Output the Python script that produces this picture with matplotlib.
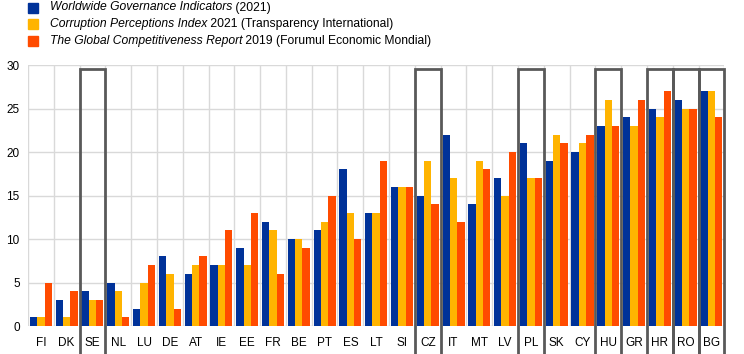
import matplotlib

matplotlib.use("Agg")
import matplotlib.pyplot as plt
import numpy as np
from matplotlib.patches import Rectangle

plt.rcParams["font.family"] = ["Liberation Sans", "DejaVu Sans"]

# Ranguri pe tari (1 = cel mai bun)
countries = ["FI", "DK", "SE", "NL", "LU", "DE", "AT", "IE", "EE", "FR", "BE", "PT", "ES", "LT",
             "SI", "CZ", "IT", "MT", "LV", "PL", "SK", "CY", "HU", "GR", "HR", "RO", "BG"]
wgi = [1, 3, 4, 5, 2, 8, 6, 7, 9, 12, 10, 11, 18, 13, 16, 15, 22, 14, 17, 21, 19, 20, 23, 24, 25, 26, 27]
cpi = [1, 1, 3, 4, 5, 6, 7, 7, 7, 11, 10, 12, 13, 13, 16, 19, 17, 19, 15, 17, 22, 21, 26, 23, 24, 25, 27]
gcr = [5, 4, 3, 1, 7, 2, 8, 11, 13, 6, 9, 15, 10, 19, 16, 14, 12, 18, 20, 17, 21, 22, 23, 26, 27, 25, 24]
highlighted = ["SE", "CZ", "PL", "HU", "HR", "RO", "BG"]
y_ticks = [0, 5, 10, 15, 20, 25, 30]

BLUE = "#003299"
YELLOW = "#FFB400"
ORANGE = "#FF4B00"
GRID = "#D9D9D9"

fig = plt.figure(figsize=(7.44, 3.54), dpi=100)
ax = fig.add_axes([0.0376, 0.079, 0.936, 0.737])

x = np.arange(len(countries)) + 0.5
w = 0.285
ax.bar(x - w, wgi, width=w, color=BLUE, zorder=3)
ax.bar(x, cpi, width=w, color=YELLOW, zorder=3)
ax.bar(x + w, gcr, width=w, color=ORANGE, zorder=3)

ax.set_xlim(0, len(countries))
ax.set_ylim(0, 30)
ax.set_yticks(y_ticks)
ax.set_xticks(x)
ax.set_xticklabels(countries, fontsize=8.5)
ax.tick_params(axis="both", length=0, labelsize=8.5, colors="#000000")
ax.tick_params(axis="x", pad=8)
ax.tick_params(axis="y", pad=6)

for yv in y_ticks:
    ax.axhline(yv, color=GRID, lw=1, zorder=1)
for xv in range(len(countries) + 1):
    ax.axvline(xv, color=GRID, lw=1, zorder=1)
for s in ax.spines.values():
    s.set_visible(False)

# casete in jurul tarilor evidentiate
for c in highlighted:
    i = countries.index(c)
    ax.add_patch(Rectangle((i, -5), 1, 34.6, fill=False, edgecolor="#595959", lw=2,
                           clip_on=False, zorder=4))

# legenda manuala (partial italic)
legend_items = [
    (BLUE, "Worldwide Governance Indicators", " (2021)"),
    (YELLOW, "Corruption Perceptions Index", " 2021 (Transparency International)"),
    (ORANGE, "The Global Competitiveness Report", " 2019 (Forumul Economic Mondial)"),
]
renderer = fig.canvas.get_renderer()
for k, (col, ital, rest) in enumerate(legend_items):
    yc = 1 - (7.5 + k * 16.7) / 354
    fig.patches.append(Rectangle((28 / 744, yc - 5 / 354), 10 / 744, 10 / 354,
                                 transform=fig.transFigure, color=col, figure=fig))
    t = fig.text(50 / 744, yc, ital, style="italic", fontsize=8.7, va="center", ha="left")
    bb = t.get_window_extent(renderer)
    fig.text(bb.x1 / fig.bbox.width, yc, rest, fontsize=8.7, va="center", ha="left")

fig.savefig("out.png", dpi=100)
